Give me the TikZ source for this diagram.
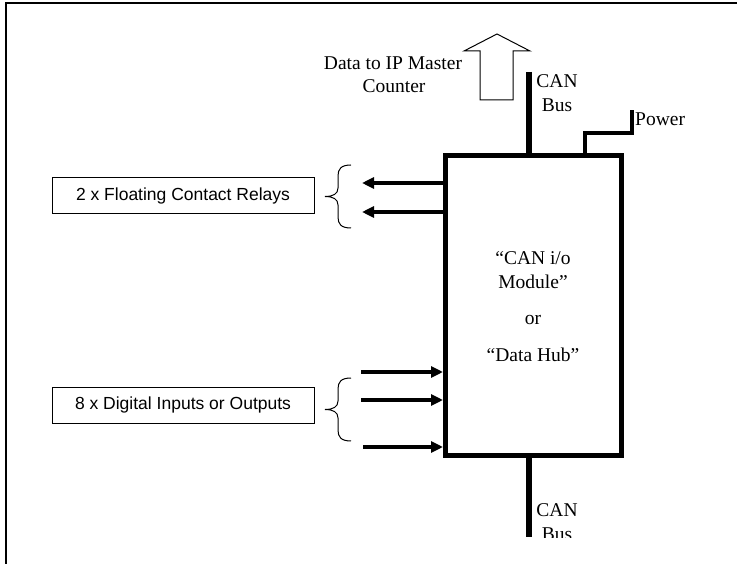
\documentclass[tikz,border=0pt]{standalone}
\usepackage{fontspec}
\setmainfont{Liberation Serif}
\newfontfamily\labelsans{Liberation Sans}
\usetikzlibrary{arrows.meta}
\begin{document}
\begin{tikzpicture}[x=1pt,y=-1pt,
  serif/.style={font=\fontsize{19.5}{24}\selectfont, inner sep=0pt},
  sanbox/.style={draw, line width=1pt, font=\labelsans\fontsize{17.5}{21}\selectfont,
    minimum width=262pt, minimum height=36pt, inner sep=0pt},
  hub/.style={draw, line width=5pt, minimum width=176pt, minimum height=299.5pt, inner sep=0pt},
  bus/.style={line width=6pt},
  powerline/.style={line width=3.5pt},
  sig/.style={line width=4pt, -{Triangle[length=12pt,width=11pt]}},
  bracket/.style={line width=1pt},
  curly/.pic={
    \draw[bracket] (13,-31.5) .. controls (3,-31.5) and (0,-27.5) .. (0,-20.5) -- (0,-8.5)
      .. controls (0,-2.5) and (-5,0) .. (-13,0)
      .. controls (-5,0) and (0,2.5) .. (0,8.5) -- (0,20.5)
      .. controls (0,27.5) and (3,31.5) .. (13,31.5);
  }
]
\useasboundingbox (0,0) rectangle (737,564);
% outer frame
\draw[line width=2pt] (6,564) -- (6,3) -- (737,3);

% hub
\node[hub] (hub) at (533.5,305.25) {};
\node[serif, anchor=base] (t1) at (533,265) {“CAN i/o};
\node[serif, anchor=base] (t2) at (533,289) {Module”};
\node[serif, anchor=base] (t3) at (533,325) {or};
\node[serif, anchor=base] (t4) at (533,361) {“Data Hub”};

% CAN bus top
\coordinate (cantop) at (529,72);
\draw[bus] (cantop) -- (cantop |- hub.north);
\node[serif, anchor=base] (can1) at (557,88) {CAN};
\node[serif, anchor=base] (bus1) at (557,112) {Bus};

% CAN bus bottom
\coordinate (canbot) at (529,537);
\draw[bus] (canbot |- hub.south) -- (canbot);
\begin{scope}
  \clip (500,480) rectangle (620,537);
  \node[serif, anchor=base] (can2) at (557,516) {CAN};
  \node[serif, anchor=base] (bus2) at (557,540) {Bus};
\end{scope}

% power
\coordinate (pwrbase) at (585,0);
\coordinate (pwr) at (632,110);
\draw[powerline] (pwrbase |- hub.north) -- (585,133) -| (pwr);
\node[serif, anchor=base west] (power) at (635,126) {Power};

% data arrow
\draw[line width=1pt, line join=miter] (480,100) -- (480,51) -- (464,51) -- (497,34)
  -- (530,51) -- (513,51) -- (513,100) -- cycle;
\node[serif, anchor=base] (data1) at (393,70) {Data to IP Master};
\node[serif, anchor=base] (data2) at (394,93) {Counter};

% relays
\node[sanbox] (relays) at (183,196) {2 x Floating Contact Relays};
\pic at (338,196.5) {curly};
\coordinate (r1) at (362,183);
\coordinate (r2) at (362,212);
\draw[sig] (r1 -| hub.west) -- (r1);
\draw[sig] (r2 -| hub.west) -- (r2);

% digital
\node[sanbox] (digital) at (183,405) {8 x Digital Inputs or Outputs};
\pic at (338,409.5) {curly};
\coordinate (d1) at (361,372);
\coordinate (d2) at (361,400);
\coordinate (d3) at (363,447);
\draw[sig] (d1) -- (d1 -| hub.west);
\draw[sig] (d2) -- (d2 -| hub.west);
\draw[sig] (d3) -- (d3 -| hub.west);
\end{tikzpicture}
\end{document}
